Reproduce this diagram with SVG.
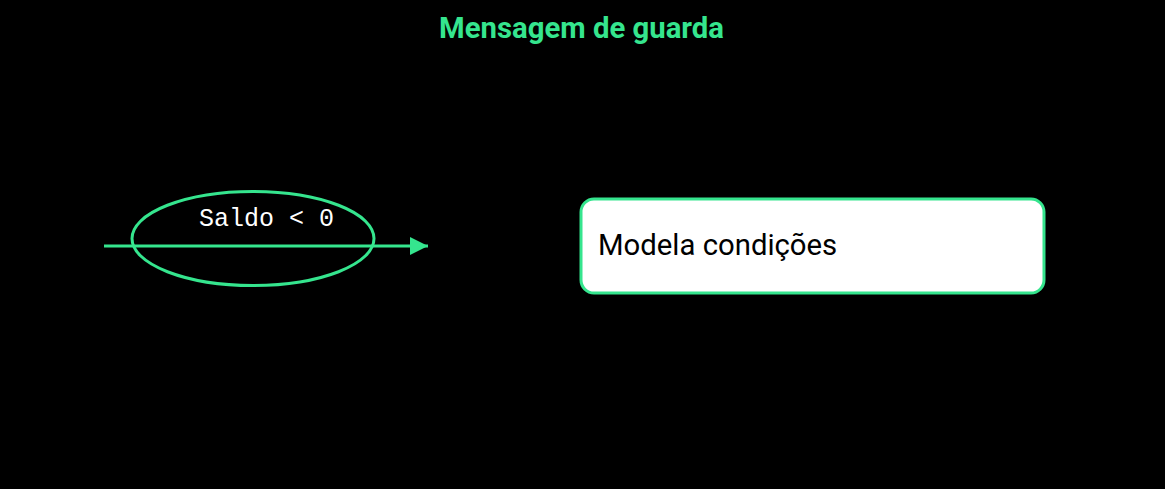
<svg xmlns="http://www.w3.org/2000/svg" width="1165" height="489" viewBox="0 0 1165 489">
<defs>
<style>
.title{font-family:Roboto,"Liberation Sans",sans-serif;font-weight:bold;font-size:29.3px;fill:#35e58e}
.guard{font-family:"Liberation Mono","Courier New",monospace;font-size:25px;fill:#ffffff}
.lbl{font-family:Roboto,"Liberation Sans",sans-serif;font-size:29.3px;fill:#000000}
.g{stroke:#35e58e;stroke-width:3;fill:none}
</style>
<marker id="arr" markerWidth="20" markerHeight="20" refX="18" refY="9" orient="auto" markerUnits="userSpaceOnUse">
<path d="M0,0 L18,9 L0,18 Z" fill="#35e58e"/>
</marker>
</defs>
<rect width="1165" height="489" fill="#000000"/>
<text class="title" x="581.5" y="38" text-anchor="middle">Mensagem de guarda</text>
<g id="connectors">
<line class="g" x1="104" y1="246" x2="428" y2="246" marker-end="url(#arr)"/>
</g>
<g id="guard">
<ellipse class="g" cx="253" cy="238.5" rx="121" ry="47"/>
<text class="guard" x="199" y="226">Saldo &lt; 0</text>
</g>
<g id="note">
<rect x="581" y="199" width="463" height="94" rx="13" fill="#ffffff" stroke="#35e58e" stroke-width="3"/>
<text class="lbl" x="598" y="255">Modela condições</text>
</g>
</svg>
